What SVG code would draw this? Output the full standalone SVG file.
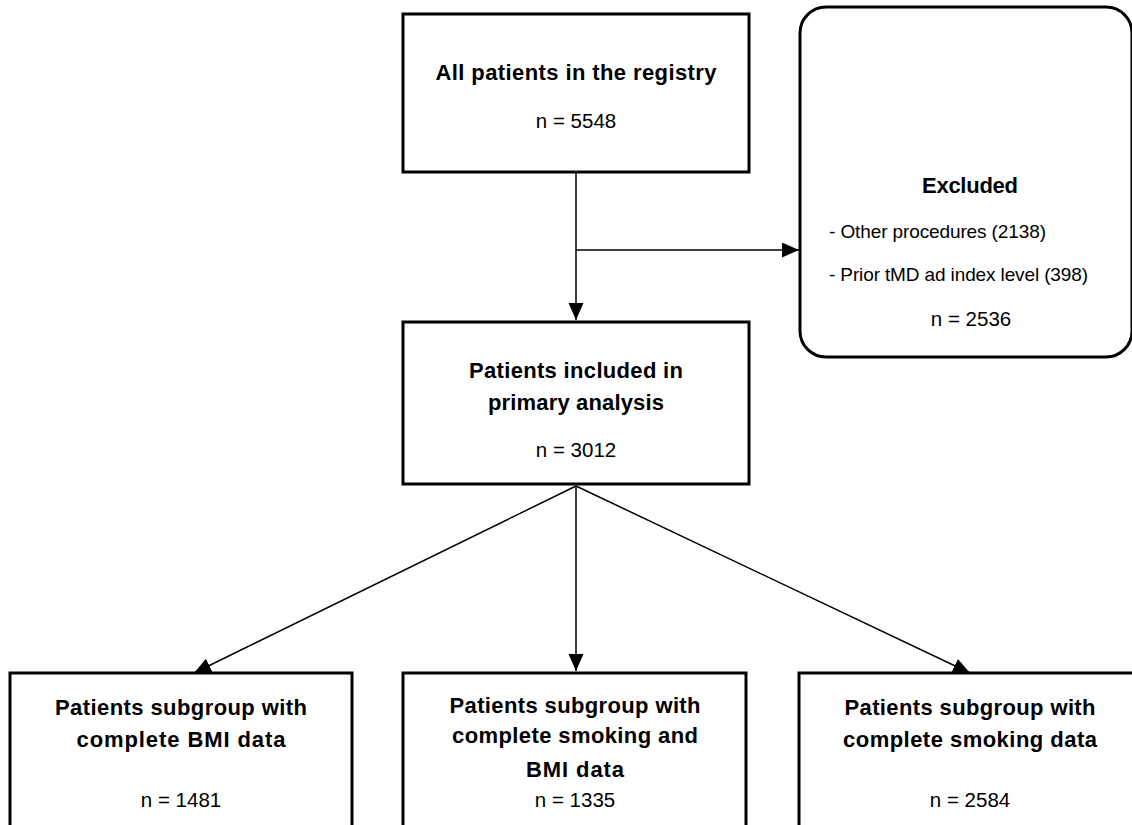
<svg xmlns="http://www.w3.org/2000/svg" width="1132" height="825" viewBox="0 0 1132 825">
<style>
.box{fill:#fff;stroke:#000;stroke-width:3}
.t{font-family:"Liberation Sans",Arial,sans-serif;font-weight:bold;font-size:22px;text-anchor:middle;fill:#000}
.n{font-family:"Liberation Sans",Arial,sans-serif;font-size:20.5px;text-anchor:middle;fill:#000}
.l{font-family:"Liberation Sans",Arial,sans-serif;font-size:19px;fill:#000}
.c{fill:none;stroke:#000;stroke-width:1.5}
</style>
<defs>
<marker id="ah" markerUnits="userSpaceOnUse" markerWidth="18" markerHeight="16" refX="17" refY="7.5" orient="auto">
<path d="M0,0 L17,7.5 L0,15 z" fill="#000"/>
</marker>
</defs>
<g id="connectors">
<line class="c" x1="576" y1="172" x2="576" y2="320" marker-end="url(#ah)"/>
<line class="c" x1="576" y1="250" x2="799" y2="250" marker-end="url(#ah)"/>
<line class="c" x1="576" y1="486" x2="194" y2="673" marker-end="url(#ah)"/>
<line class="c" x1="576" y1="486" x2="576" y2="671" marker-end="url(#ah)"/>
<line class="c" x1="576" y1="486" x2="970" y2="673" marker-end="url(#ah)"/>
</g>
<g id="registry">
<rect class="box" x="403" y="14" width="346" height="158"/>
<text class="t" x="576" y="80" textLength="281">All patients in the registry</text>
<text class="n" x="576" y="128">n = 5548</text>
</g>
<g id="excluded">
<rect class="box" x="800" y="7" width="332" height="350" rx="26" ry="26"/>
<text class="t" x="970" y="193" textLength="96">Excluded</text>
<text class="l" x="829" y="238" textLength="217">- Other procedures (2138)</text>
<text class="l" x="829" y="281" textLength="259">- Prior tMD ad index level (398)</text>
<text class="n" x="971" y="326">n = 2536</text>
</g>
<g id="primary">
<rect class="box" x="403" y="322" width="346" height="162"/>
<text class="t" x="576" y="378" textLength="214">Patients included in</text>
<text class="t" x="576" y="410" textLength="176">primary analysis</text>
<text class="n" x="576" y="457">n = 3012</text>
</g>
<g id="bmi">
<rect class="box" x="10" y="673" width="342" height="200"/>
<text class="t" x="181" y="715" textLength="252">Patients subgroup with</text>
<text class="t" x="181" y="747" textLength="209">complete BMI data</text>
<text class="n" x="181" y="807">n = 1481</text>
</g>
<g id="smokingbmi">
<rect class="box" x="403" y="673" width="343" height="200"/>
<text class="t" x="575" y="713" textLength="251">Patients subgroup with</text>
<text class="t" x="575" y="743" textLength="246">complete smoking and</text>
<text class="t" x="575" y="777" textLength="98">BMI data</text>
<text class="n" x="575" y="807">n = 1335</text>
</g>
<g id="smoking">
<rect class="box" x="799" y="673" width="345" height="200"/>
<text class="t" x="970" y="715" textLength="251">Patients subgroup with</text>
<text class="t" x="970" y="747" textLength="254">complete smoking data</text>
<text class="n" x="970" y="807">n = 2584</text>
</g>
</svg>
